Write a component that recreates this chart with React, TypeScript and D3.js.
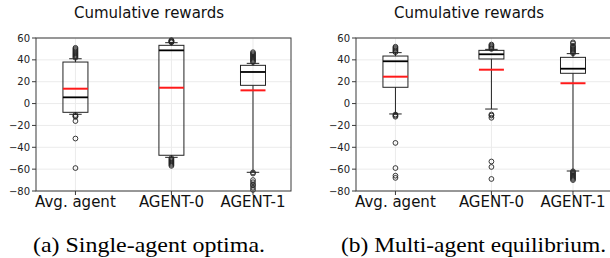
import { useRef, useEffect } from 'react';
import * as d3 from 'd3';

// ---------------------------------------------------------------------------
// Data
// ---------------------------------------------------------------------------
const CATEGORIES = ['Avg. agent', 'AGENT-0', 'AGENT-1'];
const POSITIONS = [1, 2, 2.85];
const Y_TICKS = [-80, -60, -40, -20, 0, 20, 40, 60];
const PANEL_TITLES = ['Cumulative rewards', 'Cumulative rewards'];
const CAPTIONS = ['(a) Single-agent optima.', '(b) Multi-agent equilibrium.'];
const CAPTION_WIDTHS = [232, 265];
const CAPTION_CENTERS = [149, 153.5];

// [whiskerLo, q1, median, q3, whiskerHi]
const SINGLE_STATS = [
  [-9.8, -8, 5.7, 38, 41],
  [-49.2, -47.3, 48.7, 53.3, 55.7],
  [-62.9, 16.7, 28.9, 35, 36.8],
];
const SINGLE_MEANS = [13.6, 14.5, 12.1];
const SINGLE_FLIERS = [
  [42, 43, 44, 45, 46, 47, 48, 49, 50, 51, -10.5, -11.5, -12, -16, -32, -59],
  [56, 56.5, 57, 57.5, 58, -50, -51, -52, -53, -54, -55, -56, -57],
  [38, 39, 40, 41, 42, 43, 44, 45, 46, 47, -63, -64, -70, -72, -74, -75, -77, -79],
];

const MULTI_STATS = [
  [-9.5, 14.9, 38.7, 43.5, 46.6],
  [-5, 40.8, 45.1, 48.7, 49.6],
  [-61.7, 27.7, 31.9, 42.3, 45.7],
];
const MULTI_MEANS = [24.6, 31, 18.6];
const MULTI_FLIERS = [
  [47, 48, 49, 50, 51, 52, -10, -11, -12, -36, -59, -66, -68],
  [50, 51, 52, 53, 54, -10, -11, -13, -53, -58, -69],
  [46, 47, 48, 49, 50, 51, 52, 53, 55, 56, -62, -63, -64, -65, -66, -67, -68, -69, -70],
];

const FONT = 'DejaVu Sans, sans-serif';
const SERIF = 'Liberation Serif, Times New Roman, serif';
const GRID = '#ebebeb';
const FRAME = '#3a3a3a';
const MEAN_RED = '#ff1a1a';

// ---------------------------------------------------------------------------
// One boxplot panel
// ---------------------------------------------------------------------------
function drawPanel(
  g: d3.Selection<SVGGElement, unknown, null, undefined>,
  stats: number[][],
  means: number[],
  fliers: number[][],
  title: string,
  caption: string,
  captionWidth: number,
  captionCenter: number,
) {
  const left = 36;
  const right = 291;
  const top = 38;
  const bottom = 191;

  const x = d3.scaleLinear().domain([0.589, 3.246]).range([left, right]);
  const y = d3.scaleLinear().domain([-80, 60]).range([bottom, top]);
  const boxW = 25;

  // grid
  Y_TICKS.forEach((t) => {
    g.append('line')
      .attr('x1', left).attr('x2', right)
      .attr('y1', y(t)).attr('y2', y(t))
      .attr('stroke', GRID).attr('stroke-width', 1);
  });
  POSITIONS.forEach((p) => {
    g.append('line')
      .attr('x1', x(p)).attr('x2', x(p))
      .attr('y1', top).attr('y2', bottom)
      .attr('stroke', GRID).attr('stroke-width', 1);
  });

  // boxes
  stats.forEach((s, i) => {
    const cx = x(POSITIONS[i]);
    const [lo, q1, med, q3, hi] = s;

    // whiskers
    g.append('line')
      .attr('x1', cx).attr('x2', cx).attr('y1', y(q3)).attr('y2', y(hi))
      .attr('stroke', '#222').attr('stroke-width', 1);
    g.append('line')
      .attr('x1', cx).attr('x2', cx).attr('y1', y(q1)).attr('y2', y(lo))
      .attr('stroke', '#222').attr('stroke-width', 1);
    [lo, hi].forEach((v) => {
      g.append('line')
        .attr('x1', cx - boxW / 4).attr('x2', cx + boxW / 4)
        .attr('y1', y(v)).attr('y2', y(v))
        .attr('stroke', '#222').attr('stroke-width', 1);
    });

    // box
    g.append('rect')
      .attr('x', cx - boxW / 2).attr('y', y(q3))
      .attr('width', boxW).attr('height', y(q1) - y(q3))
      .attr('fill', 'none').attr('stroke', '#222').attr('stroke-width', 1);

    // median
    g.append('line')
      .attr('x1', cx - boxW / 2).attr('x2', cx + boxW / 2)
      .attr('y1', y(med)).attr('y2', y(med))
      .attr('stroke', '#000').attr('stroke-width', 1.8);

    // mean
    g.append('line')
      .attr('x1', cx - boxW / 2).attr('x2', cx + boxW / 2)
      .attr('y1', y(means[i])).attr('y2', y(means[i]))
      .attr('stroke', MEAN_RED).attr('stroke-width', 2);

    // fliers
    fliers[i].forEach((v) => {
      if (v > 60 || v < -80) return;
      g.append('circle')
        .attr('cx', cx).attr('cy', y(v)).attr('r', 2.4)
        .attr('fill', 'none').attr('stroke', '#222').attr('stroke-width', 0.9);
    });
  });

  // frame
  g.append('rect')
    .attr('x', left).attr('y', top)
    .attr('width', right - left).attr('height', bottom - top)
    .attr('fill', 'none').attr('stroke', FRAME).attr('stroke-width', 1);

  // y ticks
  Y_TICKS.forEach((t) => {
    g.append('line')
      .attr('x1', left - 4).attr('x2', left)
      .attr('y1', y(t)).attr('y2', y(t))
      .attr('stroke', FRAME).attr('stroke-width', 1);
    g.append('text')
      .attr('x', left - 6).attr('y', y(t))
      .attr('text-anchor', 'end').attr('dominant-baseline', 'central')
      .attr('font-family', FONT).attr('font-size', '10px').attr('fill', '#222')
      .text(t < 0 ? `\u2212${Math.abs(t)}` : `${t}`);
  });

  // x ticks
  CATEGORIES.forEach((c, i) => {
    const cx = x(POSITIONS[i]);
    g.append('line')
      .attr('x1', cx).attr('x2', cx).attr('y1', bottom).attr('y2', bottom + 4)
      .attr('stroke', FRAME).attr('stroke-width', 1);
    g.append('text')
      .attr('x', cx).attr('y', 207)
      .attr('text-anchor', 'middle')
      .attr('font-family', FONT).attr('font-size', '15px').attr('fill', '#111')
      .text(c);
  });

  // title
  g.append('text')
    .attr('x', 149).attr('y', 18)
    .attr('text-anchor', 'middle')
    .attr('font-family', FONT).attr('font-size', '15px').attr('fill', '#111')
    .text(title);

  // caption
  g.append('text')
    .attr('x', captionCenter).attr('y', 252)
    .attr('text-anchor', 'middle')
    .attr('font-family', SERIF).attr('font-size', '21px').attr('fill', '#000')
    .attr('textLength', captionWidth)
    .attr('lengthAdjust', 'spacingAndGlyphs')
    .text(caption);
}

export default function App() {
  const svgRef = useRef<SVGSVGElement>(null);

  useEffect(() => {
    const svg = svgRef.current;
    if (!svg) return;
    const sel = d3.select(svg);
    sel.selectAll('*').remove();

    sel.append('rect').attr('width', 610).attr('height', 258).attr('fill', '#fff');

    const gA = sel.append('g');
    drawPanel(gA, SINGLE_STATS, SINGLE_MEANS, SINGLE_FLIERS, PANEL_TITLES[0], CAPTIONS[0],
      CAPTION_WIDTHS[0], CAPTION_CENTERS[0]);

    const gB = sel.append('g').attr('transform', 'translate(320,0)');
    drawPanel(gB, MULTI_STATS, MULTI_MEANS, MULTI_FLIERS, PANEL_TITLES[1], CAPTIONS[1],
      CAPTION_WIDTHS[1], CAPTION_CENTERS[1]);
  }, []);

  return (
    <svg
      ref={svgRef}
      width={610}
      height={258}
      style={{ position: 'absolute', left: 0, top: 0 }}
    />
  );
}
